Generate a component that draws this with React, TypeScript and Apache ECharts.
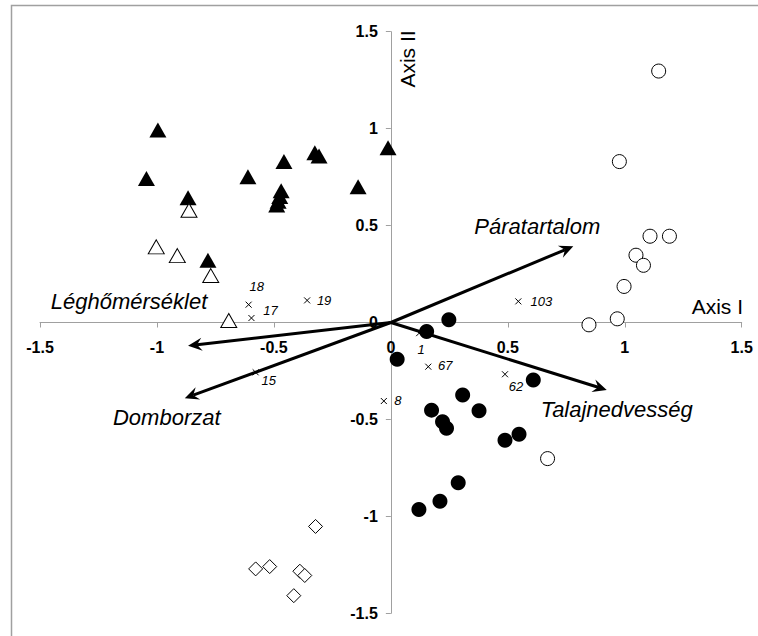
import { useEffect, useRef } from 'react';
import * as echarts from 'echarts';

const FONT = '"Liberation Sans", Arial, Helvetica, sans-serif';

// Axis scale (both axes share the same ticks)
const axisTicks = [-1.5, -1, -0.5, 0, 0.5, 1, 1.5];
const tickLabels = ['-1.5', '-1', '-0.5', '0', '0.5', '1', '1.5'];
const axisNameX = 'Axis I';
const axisNameY = 'Axis II';

// Sample scores, grouped by symbol
const filledTriangles = [
  [-0.996, 0.993], [-1.045, 0.743], [-0.867, 0.644], [-0.782, 0.321],
  [-0.611, 0.752], [-0.457, 0.83], [-0.469, 0.679], [-0.475, 0.65],
  [-0.482, 0.626], [-0.488, 0.606], [-0.325, 0.876], [-0.307, 0.859],
  [-0.14, 0.7], [-0.012, 0.902],
];
const openTriangles = [
  [-0.863, 0.579], [-1.003, 0.39], [-0.913, 0.345], [-0.77, 0.242], [-0.693, 0.01],
];
const openCircles = [
  [1.145, 1.297], [0.977, 0.83], [1.108, 0.445], [1.191, 0.445], [1.048, 0.347],
  [1.08, 0.295], [0.997, 0.186], [0.968, 0.019], [0.847, -0.012], [0.67, -0.702],
];
const filledCircles = [
  [0.248, 0.014], [0.153, -0.047], [0.027, -0.189], [0.609, -0.296], [0.307, -0.374],
  [0.174, -0.452], [0.377, -0.455], [0.221, -0.512], [0.238, -0.546], [0.548, -0.576],
  [0.488, -0.607], [0.288, -0.826], [0.21, -0.922], [0.12, -0.965],
];
const openDiamonds = [
  [-0.322, -1.052], [-0.578, -1.271], [-0.518, -1.259], [-0.389, -1.283],
  [-0.368, -1.305], [-0.415, -1.409],
];

// Numbered sites marked with a cross
const siteNames = ['18', '17', '19', '103', '15', '8', '1', '67', '62'];
const siteX = [-0.608, -0.596, -0.358, 0.545, -0.578, -0.03, 0.121, 0.16, 0.488];
const siteY = [0.092, 0.023, 0.114, 0.109, -0.257, -0.405, -0.055, -0.228, -0.267];

// Environmental variable vectors
const vectorNames = ['Páratartalom', 'Talajnedvesség', 'Léghőmérséklet', 'Domborzat'];
const vectorX = [0.78, 0.923, -0.867, -0.881];
const vectorY = [0.393, -0.348, -0.12, -0.391];

// Label placement (pixels from the marker / arrow tip)
const siteLabelOffsets = [
  [8, -18], [19, -8], [17, 0], [23, 0], [13, 8], [14, -1], [2, 16], [17, -1], [11, 12],
];
const vectorLabelOffsets = [[-36, -20], [10, 20], [-59, -44], [-18, 19]];

// Chart frame
const WIDTH = 758;
const HEIGHT = 636;
const GRID = { left: 40, right: 16.3, top: 31.7, bottom: 22.7 };
const GRID_W = WIDTH - GRID.left - GRID.right;
const GRID_H = HEIGHT - GRID.top - GRID.bottom;

const pointSeries = (data: number[][], symbol: string, size: number | number[], filled: boolean) => ({
  type: 'scatter',
  data,
  symbol,
  symbolSize: size,
  itemStyle: filled
    ? { color: '#000', opacity: 1 }
    : { color: '#fff', borderColor: '#000', borderWidth: 1, opacity: 1 },
  emphasis: { disabled: true },
  z: 3,
});

export default function App() {
  const ref = useRef<HTMLDivElement>(null);

  useEffect(() => {
    if (!ref.current) return;
    const chart = echarts.init(ref.current, null, { renderer: 'svg' });

    const tickFormatter = (v: number) => {
      const i = axisTicks.findIndex((t) => Math.abs(t - v) < 1e-9);
      return i >= 0 ? tickLabels[i] : String(v);
    };

    // Both axes cross at the origin, in the middle of the plot area
    const valueAxis = (labelMargin: number, offset: number) => ({
      type: 'value',
      min: -1.5,
      max: 1.5,
      interval: 0.5,
      offset,
      axisLine: { onZero: false, lineStyle: { color: '#a0a0a0', width: 1 } },
      axisTick: { show: true, length: 5, lineStyle: { color: '#a0a0a0' } },
      splitLine: { show: false },
      axisLabel: {
        margin: labelMargin,
        color: '#000',
        fontFamily: FONT,
        fontWeight: 'bold',
        fontSize: 16,
        formatter: tickFormatter,
      },
    });

    chart.setOption({
      animation: false,
      backgroundColor: '#fff',
      grid: { ...GRID, outerBoundsMode: 'none' },
      xAxis: { ...valueAxis(17, -GRID_H / 2), position: 'bottom' },
      yAxis: { ...valueAxis(13, -GRID_W / 2), position: 'left' },
      graphic: [
        {
          type: 'rect',
          shape: { x: 11.5, y: 5.5, width: 800, height: 700 },
          style: { fill: 'none', stroke: '#a0a0a0', lineWidth: 1.5 },
          silent: true,
        },
        {
          type: 'text',
          x: 743,
          y: 306,
          style: { text: axisNameX, font: `21px ${FONT}`, fill: '#000', align: 'right', verticalAlign: 'middle' },
        },
        {
          type: 'text',
          x: 407,
          y: 59,
          rotation: Math.PI / 2,
          style: { text: axisNameY, font: `21px ${FONT}`, fill: '#000', align: 'center', verticalAlign: 'middle' },
        },
      ],
      series: [
        pointSeries(filledTriangles, 'triangle', [17, 15], true),
        pointSeries(openTriangles, 'triangle', [16, 14], false),
        pointSeries(openCircles, 'circle', 14, false),
        pointSeries(filledCircles, 'circle', 15, true),
        pointSeries(openDiamonds, 'diamond', 14, false),
        {
          type: 'scatter',
          symbol: 'path://M0,0L10,10M10,0L0,10',
          symbolSize: 6,
          itemStyle: { color: 'none', borderColor: '#000', borderWidth: 1, opacity: 1 },
          emphasis: { disabled: true },
          z: 4,
          data: siteNames.map((name, i) => ({
            name,
            value: [siteX[i], siteY[i]],
            label: {
              show: true,
              position: 'inside',
              offset: siteLabelOffsets[i],
              formatter: '{b}',
              color: '#000',
              fontFamily: FONT,
              fontStyle: 'italic',
              fontSize: 13,
            },
          })),
        },
        {
          type: 'custom',
          z: 5,
          data: vectorNames.map((_, i) => [vectorX[i], vectorY[i]]),
          renderItem: (params: any, api: any) => {
            const idx = params.dataIndex;
            const o = api.coord([0, 0]);
            const t = api.coord([api.value(0), api.value(1)]);
            const dx = t[0] - o[0];
            const dy = t[1] - o[1];
            const len = Math.hypot(dx, dy);
            const ux = dx / len;
            const uy = dy / len;
            const nx = -uy;
            const ny = ux;
            const headLen = 14;
            const headHalf = 6.5;
            const notch = 9;
            const off = vectorLabelOffsets[idx];
            return {
              type: 'group',
              children: [
                {
                  type: 'line',
                  shape: { x1: o[0], y1: o[1], x2: t[0] - ux * notch, y2: t[1] - uy * notch },
                  style: { stroke: '#000', lineWidth: 3 },
                },
                {
                  type: 'polygon',
                  shape: {
                    points: [
                      [t[0], t[1]],
                      [t[0] - ux * headLen + nx * headHalf, t[1] - uy * headLen + ny * headHalf],
                      [t[0] - ux * notch, t[1] - uy * notch],
                      [t[0] - ux * headLen - nx * headHalf, t[1] - uy * headLen - ny * headHalf],
                    ],
                  },
                  style: { fill: '#000' },
                },
                {
                  type: 'text',
                  x: t[0] + off[0],
                  y: t[1] + off[1],
                  style: {
                    text: vectorNames[idx],
                    font: `italic 22px ${FONT}`,
                    fill: '#000',
                    align: 'center',
                    verticalAlign: 'middle',
                  },
                },
              ],
            };
          },
        },
      ],
    });

    return () => chart.dispose();
  }, []);

  return (
    <div
      ref={ref}
      style={{ position: 'fixed', left: 0, top: 0, width: WIDTH, height: HEIGHT, background: '#fff' }}
    />
  );
}
